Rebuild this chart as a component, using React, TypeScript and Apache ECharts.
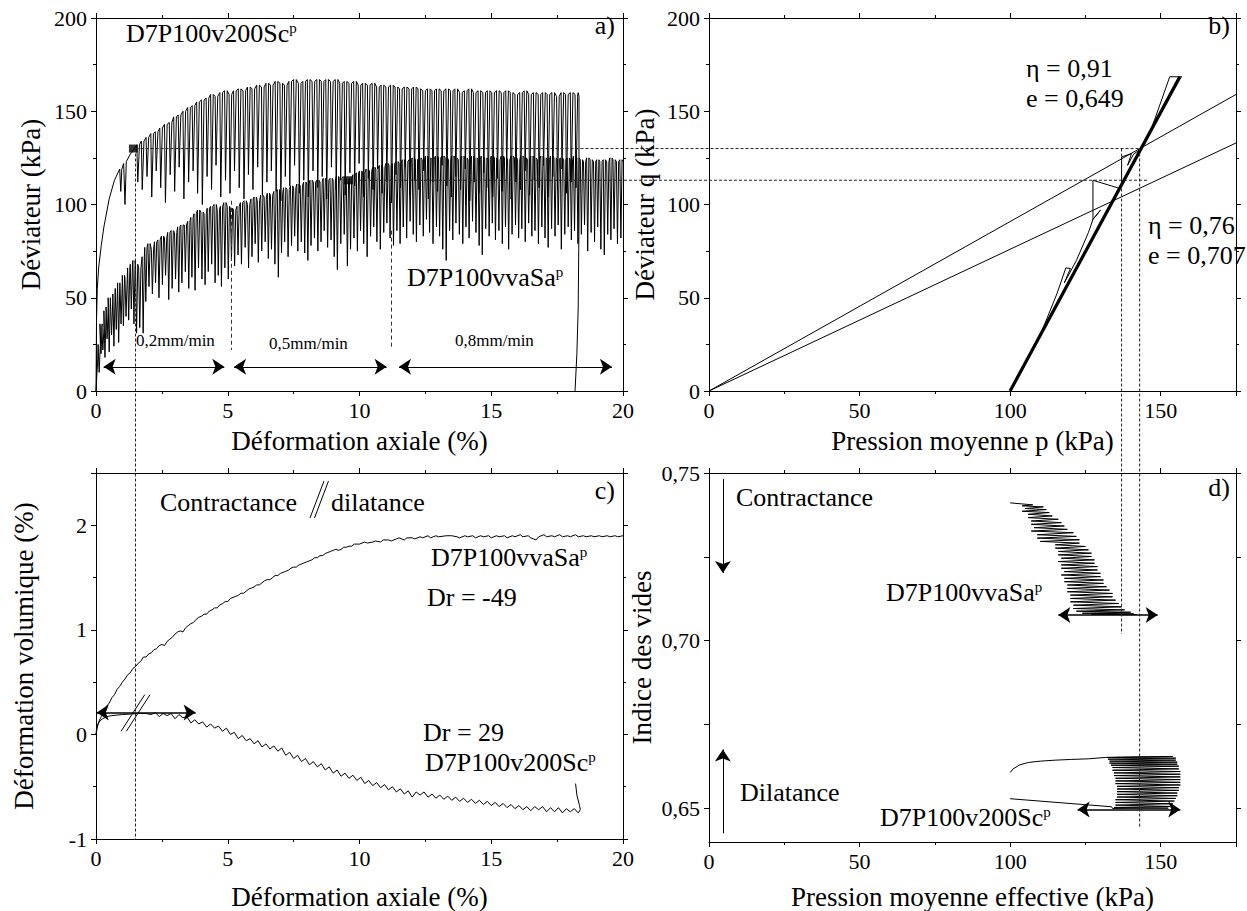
import React, { useEffect, useRef } from 'react';
import * as echarts from 'echarts';

const FONT = 'Liberation Serif, Times New Roman, serif';

// ---------- Panel a : déviateur vs déformation axiale ----------
const aUpperStart = [[0,0],[0.02,38],[0.05,55],[0.1,66],[0.2,78],[0.3,88],[0.5,103],[0.7,113],[0.9,119],[0.94,107],[0.98,119],[1.05,122],[1.1,100],[1.15,123],[1.3,127],[1.45,130]];
// [strain at peak, peak q, trough q]
const aUpperCycles = [
[1.55,132,112],[1.72,134,108],[1.90,136,115],[2.08,138,104],[2.25,139,118],[2.42,141,109],[2.60,143,101],[2.78,144,116],[2.95,147,107],[3.12,148,120],
[3.30,150,103],[3.48,152,112],[3.65,153,118],[3.82,155,106],[4.00,156,100],[4.18,157,115],[4.35,159,108],[4.52,158,121],[4.70,160,104],[4.88,161,113],
[5.05,159,106],[5.22,161,118],[5.40,162,109],[5.58,161,103],[5.75,163,116],[5.92,162,108],[6.10,164,120],[6.28,163,105],[6.45,165,112],[6.62,164,118],
[6.80,166,107],[6.98,165,102],[7.15,164,115],[7.32,166,110],[7.50,167,121],[7.68,165,106],[7.85,166,113],[8.02,167,104],[8.20,166,118],[8.38,167,109],
[8.55,166,115],[8.72,167,103],[8.90,166,120],[9.08,167,108],[9.25,165,113],[9.42,166,105],[9.60,165,117],[9.78,166,110],[9.95,164,122],[10.12,165,104],
[10.30,164,114],[10.48,165,108],[10.65,163,119],[10.82,164,106],[11.00,163,112],[11.18,164,101],[11.35,163,116],[11.52,162,109],[11.70,163,120],[11.88,162,105],
[12.05,163,113],[12.22,162,108],[12.40,161,118],[12.58,162,103],[12.75,161,112],[12.92,162,107],[13.10,161,121],[13.28,162,110],[13.45,161,104],[13.62,162,115],
[13.80,160,108],[13.98,161,119],[14.15,162,102],[14.32,160,112],[14.50,161,106],[14.68,160,117],[14.85,161,109],[15.02,160,104],[15.20,161,114],[15.38,160,107],
[15.55,161,120],[15.72,160,103],[15.90,159,112],[16.08,160,108],[16.25,161,118],[16.42,159,105],[16.60,160,113],[16.78,159,109],[16.95,160,121],[17.12,159,104],
[17.30,160,115],[17.48,158,108],[17.65,160,119],[17.82,159,106],[18.00,160,112],[18.18,159,109]
];
const aUpperEnd = [[18.3,160],[18.33,158],[18.33,90],[18.3,45],[18.25,20],[18.18,0]];

const aLowerStart = [[0,0],[0.03,8],[0.06,15]];
const aLowerCycles = [
[0.08,25,10],[0.15,36,20],[0.22,34,22],[0.30,43,18],[0.38,45,28],[0.46,50,21],[0.55,48,30],[0.64,52,24],[0.73,55,33],[0.82,58,26],
[0.91,57,36],[1.00,62,35],[1.10,60,40],[1.20,66,38],[1.30,68,44],[1.40,70,36],[1.50,68,31],[1.62,66,34],[1.75,72,31],[1.85,77,48],
[1.97,79,56],[2.10,76,52],[2.22,80,58],[2.35,81,50],[2.48,83,57],[2.60,82,62],[2.72,85,49],[2.85,86,55],[2.98,85,60],[3.10,88,53],
[3.22,89,58],[3.35,89,64],[3.48,91,55],[3.60,93,61],[3.72,95,54],[3.85,97,66],[3.98,96,60],[4.10,95,57],[4.22,98,64],[4.35,99,68],
[4.48,100,58],[4.60,97,62],[4.72,99,56],[4.85,101,66],[4.98,99,60],[5.10,98,70],[5.22,97,67],[5.35,99,73],[5.48,101,68],[5.62,102,77],
[5.75,100,66],[5.88,103,72],[6.00,104,79],[6.12,102,69],[6.25,105,75],[6.38,104,80],[6.50,106,71],[6.62,105,76],[6.75,107,68],[6.88,108,61],
[7.00,106,74],[7.12,109,80],[7.25,108,72],[7.38,110,78],[7.50,109,83],[7.62,111,75],[7.75,110,80],[7.88,112,74],[8.00,111,70],[8.12,113,78],
[8.25,112,82],[8.38,113,75],[8.50,112,80],[8.62,114,86],[8.75,113,77],[8.88,114,81],[9.00,113,72],[9.12,115,65],[9.25,114,79],[9.38,115,84],
[9.50,113,67],[9.62,114,76],[9.75,116,82],[9.88,117,75],[10.00,118,86],[10.12,117,79],[10.25,119,72],[10.38,118,83],[10.50,120,88],[10.62,119,80],
[10.75,121,76],[10.88,120,85],[11.00,122,90],[11.12,121,82],[11.25,122,78],[11.38,123,86],[11.50,122,79],[11.62,124,88],[11.75,123,82],[11.88,124,91],
[12.00,125,84],[12.12,124,80],[12.25,125,89],[12.38,124,83],[12.50,126,92],[12.62,125,85],[12.75,124,79],[12.88,126,88],[13.00,125,83],[13.12,126,76],
[13.25,125,70],[13.38,124,86],[13.50,126,81],[13.62,125,90],[13.75,124,84],[13.88,126,79],[14.00,125,88],[14.12,124,82],[14.25,126,91],[14.38,125,85],
[14.50,124,78],[14.62,126,73],[14.75,125,87],[14.88,124,83],[15.00,126,90],[15.12,125,81],[15.25,124,86],[15.38,126,79],[15.50,125,88],[15.62,124,76],
[15.75,126,84],[15.88,125,89],[16.00,124,82],[16.12,126,87],[16.25,125,80],[16.38,124,90],[16.50,126,83],[16.62,125,86],[16.75,124,79],[16.88,126,88],
[17.00,125,82],[17.12,124,77],[17.25,126,87],[17.38,125,83],[17.50,124,89],[17.62,125,76],[17.75,124,84],[17.88,125,88],[18.00,124,81],[18.12,126,86],
[18.25,125,79],[18.38,124,84],[18.50,123,89],[18.62,125,75],[18.75,124,85],[18.88,123,80],[19.00,124,88],[19.12,123,76],[19.25,124,73],[19.38,123,84],
[19.50,125,81],[19.62,124,87],[19.75,123,79],[19.88,124,82]
];
const aLowerEnd = [[20,123]];
const aMarkers = [[1.42,130],[9.58,113]];
const aSpeedArrows = [[0.29,4.87,13],[5.24,11.03,13],[11.5,19.58,13]];
const aSpeedDividers = [[5.13,102,22],[11.2,86,23.5]];

// ---------- Panel b : q vs p ----------
const bEta091 = [[0,0],[175,159]];
const bEta076 = [[0,0],[175,133]];
const bBand = [[100,0],[156.3,168.3]];
const bTopLoops = [[146,138],[156,168],[147,141],[153,168.5],[157,168.5],[156,167],[149,146],[156.3,168.3]];
const bThinPath = [[100,0],[110,30],[115.5,52],[118.5,66],[120,65.7],[118,58],[122,70],[126,85],[127.5,92],[130,97],[127.5,92],[127.5,113],[136.4,108.6],[134,102],[137,111],[137,125.5],[140.3,127.3],[139,121],[141,127],[143.5,130]];

// ---------- Panel c : déformation volumique ----------
const cVvaSa = [
[0,0],[0.05,0.07],[0.1,0.12],[0.2,0.17],[0.3,0.22],[0.4,0.27],[0.5,0.30],[0.6,0.35],[0.7,0.38],[0.8,0.43],[0.9,0.46],[1.0,0.5],[1.1,0.53],[1.2,0.57],[1.3,0.59],[1.4,0.63],[1.5,0.65],[1.6,0.68],[1.7,0.70],[1.8,0.74],[1.9,0.74],[2.0,0.77],[2.1,0.78],[2.2,0.81],[2.3,0.82],[2.4,0.85],[2.5,0.86],[2.6,0.85],[2.7,0.89],[2.8,0.91],[2.9,0.93],[3.0,0.96],[3.1,0.98],[3.2,0.99],[3.3,0.98],[3.4,1.02],[3.5,1.04],[3.6,1.06],[3.7,1.07],[3.8,1.10],[3.9,1.12],[4.0,1.13],[4.1,1.15],[4.2,1.15],[4.3,1.18],[4.4,1.19],[4.5,1.21],[4.6,1.21],[4.7,1.24],[4.8,1.25],[4.9,1.27],[5.0,1.27],[5.1,1.30],[5.2,1.31],[5.3,1.32],[5.4,1.33],[5.5,1.35],[5.6,1.35],[5.7,1.37],[5.8,1.39],[5.9,1.40],[6.0,1.41],[6.1,1.43],[6.2,1.43],[6.3,1.45],[6.4,1.47],[6.5,1.48],[6.6,1.48],[6.7,1.50],[6.8,1.52],[6.9,1.52],[7.0,1.54],[7.1,1.55],[7.2,1.56],[7.3,1.57],[7.4,1.59],[7.5,1.60],[7.6,1.60],[7.7,1.62],[7.8,1.63],[7.9,1.64],[8.0,1.65],[8.2,1.67],[8.3,1.69],[8.4,1.69],[8.5,1.71],[8.6,1.71],[8.7,1.73],[8.8,1.74],[8.9,1.75],[9.0,1.76],[9.1,1.77],[9.2,1.76],[9.3,1.77],[9.4,1.79],[9.5,1.79],[9.6,1.80],[9.7,1.80],[9.8,1.82],[9.9,1.82],[10.0,1.82],[10.2,1.84],[10.3,1.83],[10.5,1.84],[10.6,1.85],[10.8,1.84],[10.9,1.86],[11.1,1.86],[11.2,1.85],[11.4,1.87],[11.5,1.88],[11.7,1.86],[11.8,1.88],[12.0,1.88],[12.1,1.87],[12.3,1.89],[12.4,1.88],[12.6,1.90],[12.7,1.88],[12.9,1.90],[13.0,1.89],[13.3,1.90],[13.5,1.90],[13.7,1.89],[13.8,1.88],[14.0,1.90],[14.1,1.89],[14.3,1.90],[14.4,1.88],[14.6,1.90],[14.7,1.89],[14.9,1.90],[15.0,1.88],[15.2,1.90],[15.3,1.89],[15.5,1.90],[15.6,1.88],[15.8,1.90],[15.9,1.89],[16.1,1.91],[16.2,1.89],[16.4,1.90],[16.5,1.88],[16.7,1.86],[16.8,1.89],[17.0,1.91],[17.1,1.89],[17.3,1.90],[17.4,1.89],[17.6,1.91],[17.7,1.89],[17.9,1.90],[18.0,1.89],[18.2,1.91],[18.3,1.89],[18.5,1.90],[18.6,1.89],[18.8,1.90],[18.9,1.89],[19.1,1.90],[19.2,1.89],[19.4,1.90],[19.5,1.89],[19.7,1.90],[19.8,1.89],[20,1.90]
];
const cV200Sc = [
[0,0],[0.03,0.06],[0.08,0.10],[0.15,0.13],[0.25,0.15],[0.4,0.17],[0.6,0.18],[0.8,0.185],[1.0,0.19],[1.3,0.195],[1.6,0.2],[1.9,0.2],[2.1,0.19],[2.25,0.21],[2.4,0.17],[2.55,0.20],[2.7,0.18],[2.85,0.20],[3.0,0.15],[3.15,0.19],[3.3,0.16],[3.45,0.17],[3.6,0.11],[3.75,0.14],[3.9,0.10],[4.05,0.12],[4.2,0.07],[4.35,0.10],[4.5,0.06],[4.65,0.08],[4.8,0.03],[4.95,0.06],[5.1,0.0],[5.25,0.02],[5.4,-0.04],[5.55,-0.01],[5.7,-0.06],[5.85,-0.04],[6.0,-0.09],[6.15,-0.06],[6.3,-0.12],[6.45,-0.09],[6.6,-0.14],[6.75,-0.11],[6.9,-0.16],[7.05,-0.13],[7.2,-0.20],[7.35,-0.17],[7.5,-0.23],[7.65,-0.20],[7.8,-0.26],[7.95,-0.23],[8.1,-0.29],[8.25,-0.26],[8.4,-0.31],[8.55,-0.28],[8.7,-0.34],[8.85,-0.31],[9.0,-0.37],[9.15,-0.34],[9.3,-0.40],[9.45,-0.37],[9.6,-0.42],[9.75,-0.39],[9.9,-0.44],[10.05,-0.41],[10.2,-0.47],[10.35,-0.44],[10.5,-0.49],[10.65,-0.46],[10.8,-0.51],[10.95,-0.48],[11.1,-0.53],[11.25,-0.50],[11.4,-0.55],[11.55,-0.52],[11.7,-0.57],[11.85,-0.54],[12.0,-0.60],[12.15,-0.55],[12.3,-0.58],[12.45,-0.55],[12.6,-0.60],[12.75,-0.57],[12.9,-0.61],[13.05,-0.58],[13.2,-0.62],[13.35,-0.59],[13.5,-0.63],[13.65,-0.60],[13.8,-0.64],[13.95,-0.61],[14.1,-0.65],[14.25,-0.62],[14.4,-0.66],[14.55,-0.63],[14.7,-0.67],[14.85,-0.64],[15.0,-0.68],[15.15,-0.65],[15.3,-0.69],[15.45,-0.66],[15.6,-0.70],[15.75,-0.67],[15.9,-0.71],[16.05,-0.68],[16.2,-0.72],[16.35,-0.69],[16.5,-0.73],[16.65,-0.69],[16.8,-0.72],[16.95,-0.69],[17.1,-0.74],[17.25,-0.70],[17.4,-0.74],[17.55,-0.70],[17.7,-0.75],[17.85,-0.71],[18.0,-0.74],[18.15,-0.71],[18.3,-0.75],[18.38,-0.72],[18.35,-0.68],[18.25,-0.58],[18.2,-0.47]
];
const cArrow = [[0.03,3.78,0.21]];
const cSlashes = [[0.95,0.03,1.85,0.38],[1.15,0.03,2.05,0.38]];

// ---------- Panel d : indice des vides ----------
const dVvaSa = [
[100,0.7411],[107.5,0.7405],[104,0.7402],[111,0.7399],[105,0.7394],[112,0.7391],[104,0.7386],[113,0.7382],[106,0.7377],[114,0.7372],[106,0.7367],[116,0.7362],[107,0.7357],[117,0.7352],[107,0.7347],[118,0.7342],[108,0.7337],[119,0.7332],[107,0.7327],[121,0.7322],[109,0.7316],[122,0.7311],[109,0.7306],[123,0.7301],[110,0.7296],[123,0.7291],[115,0.7286],[125,0.7281],[115,0.7276],[126,0.7271],[116,0.7266],[127,0.7261],[116,0.7256],[127,0.7251],[117,0.7246],[128,0.7241],[116,0.7236],[128,0.7231],[117,0.7226],[129,0.7221],[117,0.7216],[129,0.7211],[118,0.7206],[130,0.7201],[117,0.7196],[130,0.7191],[118,0.7186],[131,0.7181],[118,0.7176],[131,0.7171],[119,0.7166],[132,0.7161],[119,0.7156],[133,0.7151],[119,0.7146],[134,0.7141],[120,0.7136],[134,0.7131],[120,0.7126],[135,0.7121],[120,0.7116],[136,0.7111],[121,0.7106],[137,0.7101],[121,0.7096],[138,0.7092],[122,0.7088],[140,0.7085],[124,0.7082],[141,0.7080],[127,0.7079],[142,0.7078]
];
const dV200Sc = [
[100,0.6607],[101,0.6618],[103.2,0.6630],[106,0.6637],[110,0.6641],[115,0.6644],[120,0.6646],[126,0.6648],[131.6,0.6652],
[154,0.6655],[132,0.6652],[155,0.6650],[132.5,0.6647],[155,0.6644],[133,0.6641],[155.5,0.6638],[133,0.6635],[155.5,0.6632],[133.5,0.6629],[156,0.6626],[134,0.6622],[156,0.6618],[134,0.6614],[156.5,0.6610],[134.5,0.6606],[156.5,0.6602],[134.5,0.6598],[156.5,0.6594],[135,0.6590],[156.5,0.6586],[135,0.6582],[156.5,0.6578],[135,0.6574],[156.5,0.6570],[135.5,0.6566],[156,0.6562],[135.5,0.6558],[156,0.6554],[135.5,0.6550],[155.5,0.6546],[135.5,0.6542],[155.5,0.6538],[135.5,0.6534],[155,0.6530],[135,0.6526],[154.5,0.6522],[135,0.6518],[154,0.6514],[135,0.6510],[153,0.6506],[134.5,0.6503],[152.5,0.6501],[134,0.6500],
[133.7,0.6505],[100,0.6529]
];
const dDoubleArrows = [[116,149,0.7077],[122.4,156.5,0.6497]];
const dSingleArrows = [[4.6,0.7482,0.7202],[4.6,0.6426,0.6676]];
const dYLabels = [0.65, 0.70, 0.75];
const dYTicks = [0.65, 0.675, 0.70, 0.725, 0.75];

// guide lines crossing panels: [grid from, x, y, grid to, x, y]
const guideSegments = [
  [0, 1.5, 130, 1, 143, 130],
  [0, 9.6, 113, 1, 146, 113],
  [0, 1.5, 130, 2, 1.5, -1],
  [1, 137, 130, 3, 137, 0.702],
  [1, 143, 130, 3, 143, 0.6445],
];

// drawing style of one loading cycle (strain offsets of the trough and of the recovery)
function spikes(start: number[][], cycles: number[][], end: number[][], drop: number, rise: number) {
  const pts: number[][] = start.map((p) => p.slice());
  for (const [x, p, t] of cycles) {
    pts.push([x, p], [x + drop, t], [x + rise, p]);
  }
  return pts.concat(end);
}

const BLACK = '#000';

function axis(dim: 'x' | 'y', g: number, min: number, max: number, opts: any = {}) {
  const mirror = !!opts.mirror;
  const o: any = {
    type: 'value',
    gridIndex: g,
    min,
    max,
    position: dim === 'x' ? (mirror ? 'top' : 'bottom') : (mirror ? 'right' : 'left'),
    axisLine: { show: true, onZero: false, lineStyle: { color: BLACK, width: 1 } },
    axisTick: { show: true, inside: false, length: 5, lineStyle: { color: BLACK, width: 1 } },
    minorTick: { show: true, splitNumber: 2, length: 3, lineStyle: { color: BLACK, width: 1 } },
    axisLabel: mirror
      ? { show: false }
      : { show: true, fontFamily: FONT, fontSize: 22, color: BLACK, margin: dim === 'x' ? 8 : 9, showMaxLabel: opts.showMax !== false },
    splitLine: { show: false },
    minorSplitLine: { show: false },
  };
  if (opts.interval !== undefined) o.interval = opts.interval;
  if (!mirror && opts.name) {
    o.name = opts.name;
    o.nameLocation = 'middle';
    o.nameGap = opts.nameGap;
    o.nameTextStyle = { fontFamily: FONT, fontSize: 27, color: BLACK };
  }
  if (opts.customTicks) {
    o.axisTick.customValues = opts.customTicks;
    o.minorTick = { show: false };
    if (!mirror) {
      o.axisLabel.customValues = opts.customLabels;
      o.axisLabel.formatter = (v: number) => v.toFixed(2).replace('.', ',');
    }
  }
  return o;
}

function line(name: string, g: number, data: number[][], width: number, extra: any = {}) {
  return {
    type: 'line', name, xAxisIndex: g, yAxisIndex: g, data,
    showSymbol: false, symbol: 'none', silent: true, animation: false,
    lineStyle: { color: BLACK, width }, itemStyle: { color: BLACK },
    ...extra,
  };
}

function markLines(data: any[], symbol: any, dashed = false, width = 1) {
  return {
    silent: true, animation: false, symbol, symbolSize: 12,
    label: { show: false }, emphasis: { disabled: true },
    lineStyle: { color: dashed ? '#333' : BLACK, width, type: dashed ? [4, 3] : 'solid' },
    data,
  };
}

function buildOption() {
  const grids = [
    { left: 96, top: 18, width: 527, height: 373 },
    { left: 709, top: 18, width: 527, height: 373 },
    { left: 96, top: 473, width: 527, height: 373 },
    { left: 709, top: 473, width: 527, height: 373 },
  ];
  const xAxis = [
    axis('x', 0, 0, 20, { interval: 5, name: 'Déformation axiale (%)', nameGap: 36 }),
    axis('x', 1, 0, 175, { interval: 50, name: 'Pression moyenne p (kPa)', nameGap: 36, showMax: false }),
    axis('x', 2, 0, 20, { interval: 5, name: 'Déformation axiale (%)', nameGap: 44 }),
    axis('x', 3, 0, 175, { interval: 50, name: 'Pression moyenne effective (kPa)', nameGap: 41, showMax: false }),
    axis('x', 0, 0, 20, { interval: 5, mirror: true }),
    axis('x', 1, 0, 175, { interval: 50, mirror: true }),
    axis('x', 2, 0, 20, { interval: 5, mirror: true }),
    axis('x', 3, 0, 175, { interval: 50, mirror: true }),
  ];
  const yAxis = [
    axis('y', 0, 0, 200, { interval: 50, name: 'Déviateur (kPa)', nameGap: 52 }),
    axis('y', 1, 0, 200, { interval: 50, name: 'Déviateur q (kPa)', nameGap: 51 }),
    axis('y', 2, -1, 2.5, { interval: 1, name: 'Déformation volumique (%)', nameGap: 59, showMax: false }),
    axis('y', 3, 0.64, 0.75, { name: 'Indice des vides', nameGap: 54, customTicks: dYTicks, customLabels: dYLabels }),
    axis('y', 0, 0, 200, { interval: 50, mirror: true }),
    axis('y', 1, 0, 200, { interval: 50, mirror: true }),
    axis('y', 2, -1, 2.5, { interval: 1, mirror: true }),
    axis('y', 3, 0.64, 0.75, { mirror: true, customTicks: dYTicks }),
  ];

  const series: any[] = [
    line('D7P100v200Sc', 0, spikes(aUpperStart, aUpperCycles, aUpperEnd, 0.035, 0.1), 1, {
      markLine: markLines(aSpeedArrows.map(([x1, x2, y]) => [{ coord: [x1, y] }, { coord: [x2, y] }]), ['arrow', 'arrow']),
    }),
    line('D7P100vvaSa', 0, spikes(aLowerStart, aLowerCycles, aLowerEnd, 0.04, 0.085), 1, {
      markLine: markLines(aSpeedDividers.map(([x, y1, y2]) => [{ coord: [x, y1] }, { coord: [x, y2] }]), ['none', 'none'], true),
    }),
    { type: 'scatter', xAxisIndex: 0, yAxisIndex: 0, data: aMarkers, symbol: 'rect', symbolSize: [9, 8], itemStyle: { color: BLACK }, silent: true, animation: false, z: 5 },
    line('eta091', 1, bEta091, 1),
    line('eta076', 1, bEta076, 1),
    line('band', 1, bBand, 3.2),
    line('top', 1, bTopLoops, 1),
    line('thin', 1, bThinPath, 1),
    line('c vvaSa', 2, cVvaSa, 1, {
      markLine: markLines(cSlashes.map(([x1, y1, x2, y2]) => [{ coord: [x1, y1] }, { coord: [x2, y2] }]), ['none', 'none']),
    }),
    line('c v200Sc', 2, cV200Sc, 1, {
      markLine: markLines(cArrow.map(([x1, x2, y]) => [{ coord: [x1, y] }, { coord: [x2, y] }]), ['arrow', 'arrow'], false, 1.5),
    }),
    line('d vvaSa', 3, dVvaSa, 1, {
      markLine: markLines(dDoubleArrows.map(([x1, x2, y]) => [{ coord: [x1, y] }, { coord: [x2, y] }]), ['arrow', 'arrow'], false, 1.5),
    }),
    line('d v200Sc', 3, dV200Sc, 1, {
      markLine: markLines(dSingleArrows.map(([x, y1, y2]) => [{ coord: [x, y1], symbol: 'none' }, { coord: [x, y2], symbol: 'arrow' }]), ['none', 'arrow']),
    }),
  ];

  return {
    animation: false,
    backgroundColor: '#fff',
    textStyle: { fontFamily: FONT },
    grid: grids,
    xAxis,
    yAxis,
    series,
  };
}

function plain(x: number, y: number, text: string, size = 26, align = 'left') {
  return {
    type: 'text', x, y, silent: true, z: 100,
    style: { text, fontFamily: FONT, fontSize: size, fill: BLACK, align, verticalAlign: 'middle', textAlign: align, textVerticalAlign: 'middle' },
  };
}

function sup(x: number, y: number, main: string) {
  return {
    type: 'text', x, y, silent: true, z: 100,
    style: {
      text: `{m|${main}}{s|p}`,
      fill: BLACK,
      fontFamily: FONT,
      align: 'left', verticalAlign: 'middle', textAlign: 'left', textVerticalAlign: 'middle',
      rich: {
        m: { fontFamily: FONT, fontSize: 26, fill: BLACK, color: BLACK },
        s: { fontFamily: FONT, fontSize: 15, fill: BLACK, color: BLACK, verticalAlign: 'top' },
      },
    },
  };
}

function textElements() {
  const slash = (x1: number, y1: number, x2: number, y2: number) => ({
    type: 'line', silent: true, z: 100, shape: { x1, y1, x2, y2 }, style: { stroke: BLACK, lineWidth: 1 },
  });
  return [
    sup(126, 33, 'D7P100v200Sc'),
    plain(615, 25, 'a)', 26, 'right'),
    sup(407, 277, 'D7P100vvaSa'),
    plain(136, 340, '0,2mm/min', 17),
    plain(269, 343, '0,5mm/min', 17),
    plain(455, 340, '0,8mm/min', 17),
    plain(1026, 68, 'η = 0,91', 26),
    plain(1026, 98, 'e = 0,649', 26),
    plain(1148, 225, 'η = 0,76', 26),
    plain(1148, 255, 'e = 0,707', 26),
    plain(1230, 25, 'b)', 26, 'right'),
    plain(160, 502, 'Contractance', 26),
    slash(310, 518, 324, 481),
    slash(314.5, 518, 328.5, 481),
    plain(331, 502, 'dilatance', 26),
    plain(615, 490, 'c)', 26, 'right'),
    sup(431, 557, 'D7P100vvaSa'),
    plain(427, 597, 'Dr = -49', 26),
    plain(423, 732, 'Dr = 29', 26),
    sup(425, 762, 'D7P100v200Sc'),
    plain(736, 497, 'Contractance', 26),
    plain(740, 792, 'Dilatance', 26),
    sup(886, 592, 'D7P100vvaSa'),
    sup(880, 817, 'D7P100v200Sc'),
    plain(1230, 487, 'd)', 26, 'right'),
  ];
}

export default function App() {
  const ref = useRef<HTMLDivElement>(null);
  useEffect(() => {
    if (!ref.current) return;
    const chart = echarts.init(ref.current, null, { renderer: 'svg' });
    chart.setOption(buildOption() as any);
    const guides = guideSegments.map(([g1, x1, y1, g2, x2, y2]) => {
      const p1 = chart.convertToPixel({ xAxisIndex: g1, yAxisIndex: g1 } as any, [x1, y1]) as unknown as number[];
      const p2 = chart.convertToPixel({ xAxisIndex: g2, yAxisIndex: g2 } as any, [x2, y2]) as unknown as number[];
      return {
        type: 'line', silent: true, z: 50,
        shape: { x1: p1[0], y1: p1[1], x2: p2[0], y2: p2[1] },
        style: { stroke: '#222', lineWidth: 1, lineDash: [3, 2] },
      };
    });
    chart.setOption({ graphic: [...textElements(), ...guides] } as any);
    return () => chart.dispose();
  }, []);
  return <div ref={ref} style={{ position: 'absolute', left: 0, top: 0, width: 1247, height: 911, background: '#fff' }} />;
}
